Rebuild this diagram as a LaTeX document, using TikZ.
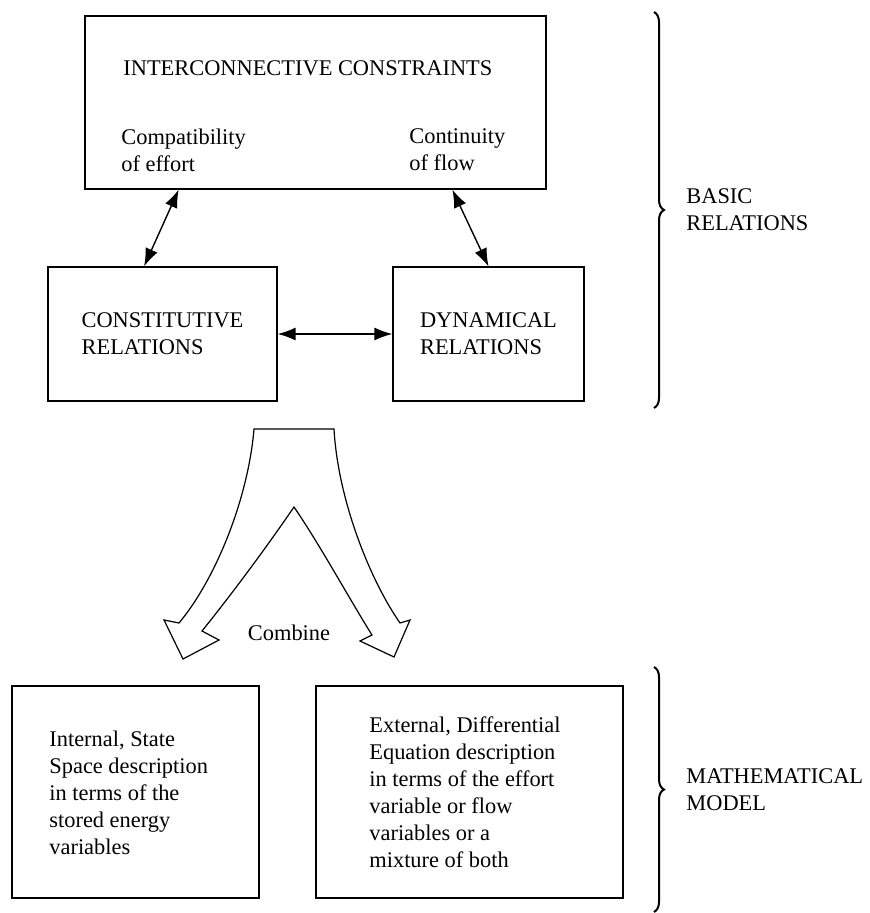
\documentclass[tikz,border=0pt]{standalone}
\usepackage{fontspec}
\setmainfont{Liberation Serif}
\usetikzlibrary{arrows.meta,calc,fit,decorations.pathreplacing}

\begin{document}
\begin{tikzpicture}[x=0.5pt, y=-0.5pt,
  font=\fontsize{11.2}{13.5}\selectfont,
  box/.style={draw, line width=0.6pt, inner sep=0pt},
  lbl/.style={inner sep=0pt, anchor=west, align=left},
  link/.style={{Latex[length=9pt,width=6.5pt]}-{Latex[length=9pt,width=6.5pt]}, line width=0.7pt},
  group/.style={decorate, decoration={brace, amplitude=5pt}, line width=1pt}]

\useasboundingbox (0,0) rectangle (870,913);

% --- basic relation boxes ---
\node[box, fit={(85,16) (546,189)}] (ic) {};
\node[lbl] (ictitle) at (123,68) {INTERCONNECTIVE CONSTRAINTS};
\node[lbl] (effort) at (121,150) {Compatibility\\of effort};
\node[lbl] (flow)   at (409,150) {Continuity\\of flow};

\node[box, fit={(48,267) (277,401)}]  (con) {};
\node[box, fit={(393,267) (584,401)}] (dyn) {};
\node[align=left] (contxt) at (con.center) {CONSTITUTIVE\\RELATIONS};
\node[align=left] (dyntxt) at (dyn.center) {DYNAMICAL\\RELATIONS};

% --- two-way links ---
\draw[link] ($(ic.south west)!0.204!(ic.south east)$) -- ($(con.north west)!0.42!(con.north east)$);
\draw[link] ($(ic.south west)!0.796!(ic.south east)$) -- (dyn.north);
\draw[link] (con.east) -- (dyn.west);

% --- split arrow ---
\draw[line width=0.6pt, fill=white, line join=miter]
  (254,429) -- (334,429)
  .. controls (338,500) and (370,580) .. (400,623)
  -- (410,620) -- (394,657) -- (360,641) -- (372,635)
  .. controls (350,600) and (320,545) .. (294,507)
  .. controls (268,545) and (235,590) .. (202,631)
  -- (219,640) -- (183,659) -- (164,620) -- (179,623)
  .. controls (215,580) and (248,500) .. (254,429) -- cycle;
\node (combine) at (289,633) {Combine};

% --- model boxes ---
\node[box, fit={(12,686) (259,898)}]  (state) {};
\node[box, fit={(316,686) (623,898)}] (ext) {};
\node[lbl] (statetxt) at (49,793)
  {Internal, State\\Space description\\in terms of the\\stored energy\\variables};
\node[lbl] (exttxt) at (369,792)
  {External, Differential\\Equation description\\in terms of the effort\\variable or flow\\variables or a\\mixture of both};

% --- braces + group names ---
\foreach \ya/\yb/\txt [count=\i] in
  {12/408/{BASIC\\RELATIONS}, 667/912/{MATHEMATICAL\\MODEL}}{%
  \coordinate (g\i-top) at (654,\ya);
  \coordinate (g\i-bot) at (654,\yb);
  \draw[group] (g\i-top) -- (g\i-bot);
  \node[lbl] (g\i-name) at (686,{(\ya+\yb)/2}) {\txt};
}

\end{tikzpicture}
\end{document}
